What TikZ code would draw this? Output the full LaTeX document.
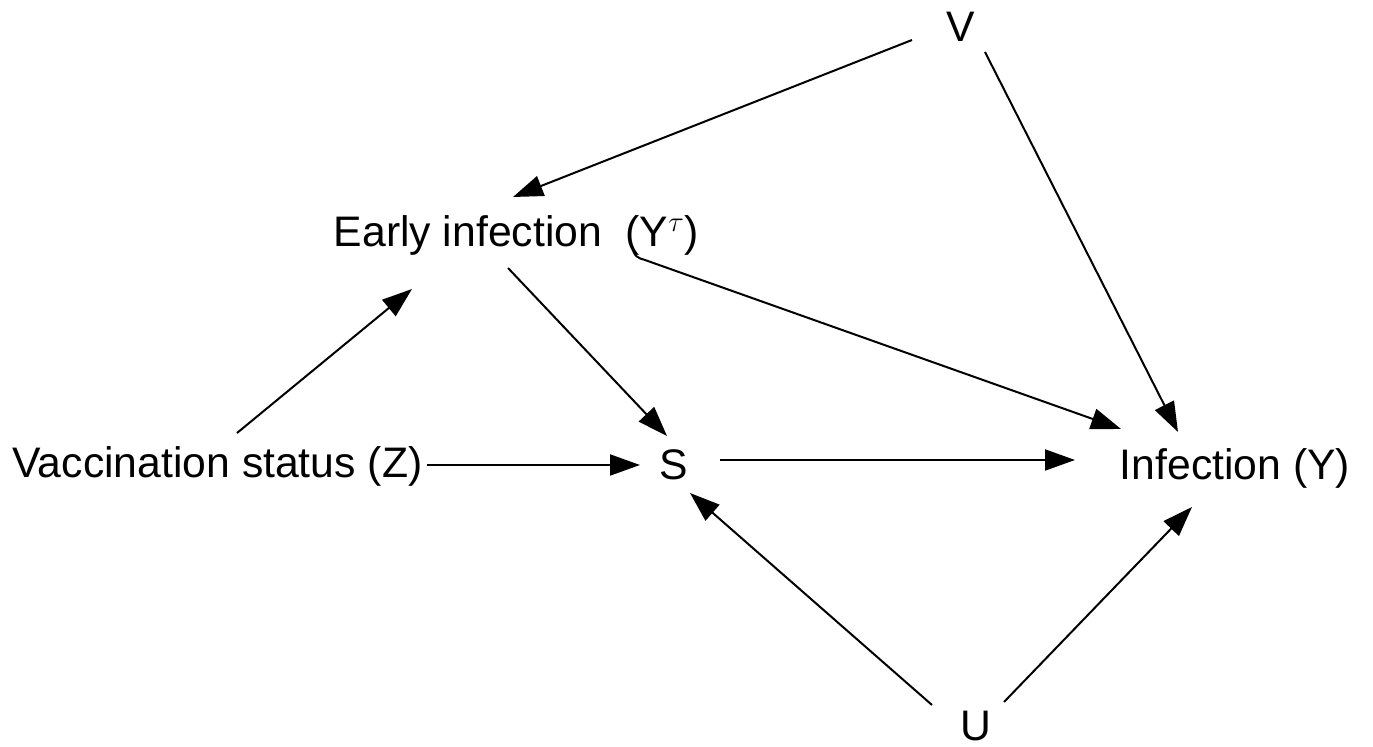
\documentclass[tikz,border=0pt]{standalone}
\usepackage{fontspec}
\setmainfont{Liberation Sans}
\usetikzlibrary{arrows.meta}
\begin{document}
\begin{tikzpicture}[x=0.5pt,y=-0.5pt,
  lbl/.style={inner sep=0pt,anchor=base,font=\fontsize{21.35}{25}\selectfont},
  arr/.style={line width=1pt,-{Triangle[length=15pt,width=10.5pt]}}]
\useasboundingbox (0,0) rectangle (1373,747);

% variables
\node[lbl] (V) at (961,42) {V};
\node[lbl] (E) at (516.5,247) {Early infection\ \ (Y$^{\tau}$)};
\node[lbl] (Z) at (217.5,478) {Vaccination status (Z)};
\node[lbl] (S) at (674,480) {S};
\node[lbl] (Y) at (1235,480) {Infection (Y)};
\node[lbl] (U) at (976,741) {U};

% causal arrows
\draw[arr] ([shift={(-49,-2)}]V.base) -- ([shift={(-3.5,-50)}]E.base);
\draw[arr] ([shift={(24,10)}]V.base) -- ([shift={(-57,-48)}]Y.base);
\draw[arr] ([shift={(115.5,-1)}]E.base)
  .. controls ([shift={(117.5,10)}]E.base) and ([shift={(121.5,11)}]E.base)
  .. ([shift={(128.5,13)}]E.base) -- ([shift={(-114,-51)}]Y.base);
\draw[arr] ([shift={(19.5,-45)}]Z.base) -- ([shift={(-104.5,42)}]E.base);
\draw[arr] ([shift={(-8.5,21)}]E.base) -- ([shift={(-7,-44)}]S.base);
\draw[arr] ([shift={(209.5,-13)}]Z.base) -- ([shift={(-34,-15)}]S.base);
\draw[arr] ([shift={(46,-20)}]S.base) -- ([shift={(-160,-20)}]Y.base);
\draw[arr] ([shift={(-44,-36)}]U.base) -- ([shift={(16,13)}]S.base);
\draw[arr] ([shift={(28,-39)}]U.base) -- ([shift={(-43,27)}]Y.base);
\end{tikzpicture}
\end{document}
